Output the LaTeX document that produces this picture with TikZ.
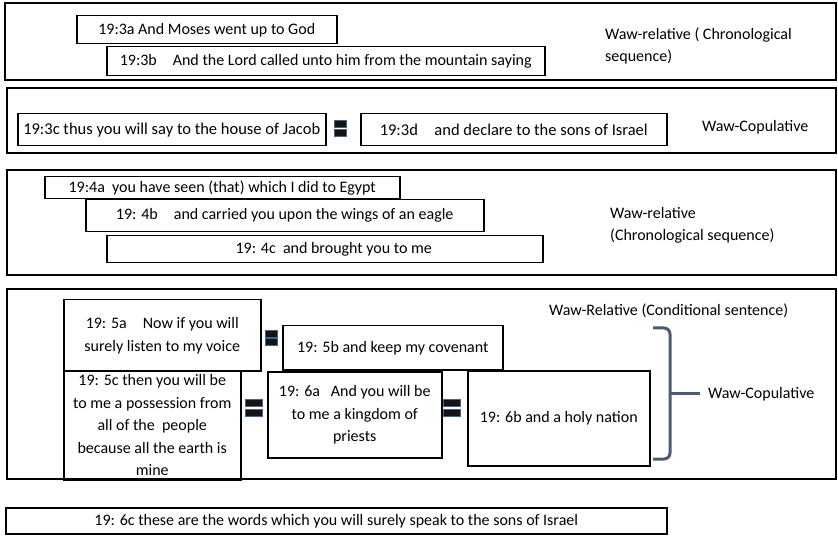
\documentclass[tikz,border=0pt]{standalone}
\usepackage{fontspec}
\setmainfont{Carlito}
\definecolor{slate}{RGB}{75,91,116}
\definecolor{barline}{RGB}{70,100,140}
\begin{document}
\begin{tikzpicture}[x=1pt,y=-1pt,
  sec/.style={draw, line width=1.8pt},
  bx/.style={draw, line width=1.5pt, anchor=north west, inner sep=0pt, align=center, font=\fontsize{16}{21}\selectfont},
  lbl/.style={anchor=west, align=left, inner sep=0pt, font=\fontsize{16}{22}\selectfont},
  bar/.style={fill=black!92, draw=barline, line width=0.7pt, minimum width=17pt, minimum height=7pt, inner sep=0pt},
  smallbar/.style={bar, minimum width=12pt, minimum height=6.5pt},
  brc/.style={draw=slate, line width=3pt, rounded corners=6pt}
]
\useasboundingbox (0,0) rectangle (838,537);
% section 1
\draw[sec, line width=2.2pt] (5,3) rectangle (836,80);
\node[bx, minimum width=260pt, minimum height=28pt] (a3) at (76,15) {19:3a And Moses went up to God};
\node[bx, minimum width=438pt, minimum height=29pt] (b3) at (106,46) {19:3b\quad And the Lord called unto him from the mountain saying};
\node[lbl] (l1) at (605,46) {Waw-relative ( Chronological\\sequence)};
% section 2
\draw[sec] (7,88) rectangle (836,153);
\node[bx, minimum width=308pt, minimum height=32pt, font=\fontsize{16.5}{21}\selectfont] (c3) at (17,113) {19:3c thus you will say to the house of Jacob};
\node[smallbar] (e0a) at (340,124) {};
\node[smallbar] (e0b) at (340,133) {};
\node[bx, minimum width=306pt, minimum height=32pt, font=\fontsize{16.5}{21}\selectfont] (d3) at (360,113) {19:3d\quad and declare to the sons of Israel};
\node[lbl] (l2) at (702,127) {Waw-Copulative};
% section 3
\draw[sec] (7,170) rectangle (836,275);
\node[bx, minimum width=355pt, minimum height=22pt] (a4) at (44,176) {19:4a\ \ you have seen (that) which I did to Egypt};
\node[bx, minimum width=398pt, minimum height=32pt] (b4) at (85,199) {19: 4b\quad and carried you upon the wings of an eagle};
\node[bx, minimum width=436pt, minimum height=27pt] (c4) at (106,235) {\hspace*{18pt}19: 4c\ \ and brought you to me};
\node[lbl] (l3) at (610,225) {Waw-relative\\(Chronological sequence)};
% section 4
\draw[sec] (7,289) rectangle (836,479);
\node[bx, minimum width=197pt, minimum height=71pt, font=\fontsize{16}{23}\selectfont] (a5) at (63,299) {19: 5a\quad Now if you will\\surely listen to my voice};
\node[smallbar] (e1a) at (271,334) {};
\node[smallbar] (e1b) at (271,342) {};
\node[bx, minimum width=220pt, minimum height=44pt] (b5) at (282,325) {19: 5b and keep my covenant};
\node[bx, minimum width=177pt, minimum height=109pt, font=\fontsize{16}{22.5}\selectfont] (c5) at (63,370) {19: 5c then you will be\\to me a possession from\\all of the\ \ people\\because all the earth is\\mine};
\node[bar] (e2a) at (254,403) {};
\node[bar] (e2b) at (254,413) {};
\node[bx, minimum width=174pt, minimum height=86pt, font=\fontsize{16}{22.5}\selectfont] (a6) at (267,371) {19: 6a\ \ \ And you will be\\to me a kingdom of\\priests};
\node[bar] (e3a) at (452,403) {};
\node[bar] (e3b) at (452,413) {};
\node[bx, minimum width=182pt, minimum height=95pt] (b6) at (467,370) {19: 6b and a holy nation};
\node[lbl] (l4) at (549,311) {Waw-Relative (Conditional sentence)};
\draw[brc] (653,328) -| (670,459) -- (653,459);
\draw[brc, rounded corners=0pt] (670,393) -- (700,393);
\node[lbl] (l5) at (708,394) {Waw-Copulative};
% section 5
\node[bx, minimum width=661pt, minimum height=26pt] (c6) at (5,507) {19: 6c these are the words which you will surely speak to the sons of Israel};
\end{tikzpicture}
\end{document}
